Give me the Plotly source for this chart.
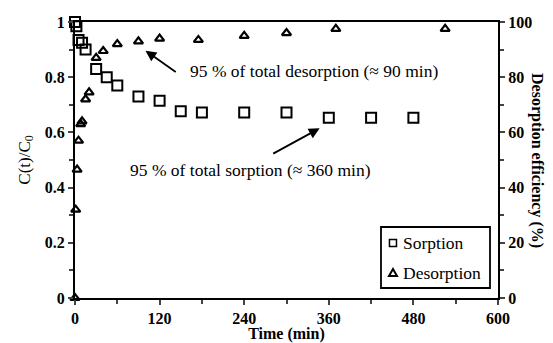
import plotly.graph_objects as go

# Data
sorption_t = [0, 2, 5, 10, 15, 30, 45, 60, 90, 120, 150, 180, 240, 300, 360, 420, 480]
sorption_c = [1.0, 0.985, 0.935, 0.925, 0.90, 0.83, 0.80, 0.77, 0.73, 0.715, 0.677, 0.672,
              0.672, 0.672, 0.653, 0.653, 0.653]

desorption_t = [0, 1, 3, 5, 8, 10, 15, 20, 30, 40, 60, 90, 120, 175, 240, 300, 370, 525]
desorption_e = [0, 32, 46.5, 57, 63, 64, 72, 74.5, 87, 89.5, 92, 93, 94, 93.5, 95, 96, 97.5, 97.5]

x_ticks = [0, 120, 240, 360, 480, 600]
y_ticks = [0, 0.2, 0.4, 0.6, 0.8, 1]
y_tick_labels = ["0", "0.2", "0.4", "0.6", "0.8", "1"]
y2_ticks = [0, 20, 40, 60, 80, 100]
legend_names = ["Sorption", "Desorption"]

FONT = "Liberation Serif"

fig = go.Figure()
fig.add_trace(go.Scatter(
    x=sorption_t, y=sorption_c, mode="markers", name=legend_names[0], showlegend=False,
    marker=dict(symbol="square-open", size=10, color="black", line=dict(width=2)),
    cliponaxis=False,
))
fig.add_trace(go.Scatter(
    x=desorption_t, y=desorption_e, mode="markers", name=legend_names[1], yaxis="y2",
    showlegend=False,
    marker=dict(symbol="triangle-up-open", size=8, color="black", line=dict(width=2.2)),
    cliponaxis=False,
))

tickfont = dict(family=FONT, size=16, color="black", weight="bold")

fig.update_layout(
    width=553, height=343,
    margin=dict(l=75, r=55, t=22, b=45, autoexpand=False),
    paper_bgcolor="white", plot_bgcolor="white",
    font=dict(family=FONT, size=16, color="black"),
    showlegend=False,
    xaxis=dict(
        range=[0, 600], tickvals=x_ticks, ticks="outside", ticklen=5, tickwidth=1.5,
        minor=dict(dtick=60, ticks="outside", ticklen=4, tickwidth=1.5),
        showline=True, linecolor="black", linewidth=2, mirror=True, automargin=False,
        showgrid=False, zeroline=False, tickfont=tickfont,
        title=dict(text="Time (min)", font=dict(family=FONT, size=16, weight="bold"), standoff=0),
    ),
    yaxis=dict(
        range=[0, 1], tickvals=y_ticks, ticktext=y_tick_labels, ticks="outside",
        ticklen=5, tickwidth=1.5, automargin=False,
        minor=dict(dtick=0.1, ticks="outside", ticklen=4, tickwidth=1.5),
        showline=True, linecolor="black", linewidth=2, mirror=True,
        showgrid=False, zeroline=False, tickfont=tickfont,
        title=dict(text="C(t)/C<sub>0</sub>", font=dict(family=FONT, size=17), standoff=10),
    ),
    yaxis2=dict(
        range=[0, 100], tickvals=y2_ticks, overlaying="y", side="right",
        ticks="outside", ticklen=5, tickwidth=1.5, automargin=False,
        minor=dict(dtick=10, ticks="outside", ticklen=4, tickwidth=1.5),
        showline=True, linecolor="black", linewidth=2,
        showgrid=False, zeroline=False, tickfont=tickfont,
    ),
)

# Legend box drawn in paper coordinates (layout, not data)
shapes = [
    dict(type="rect", xref="paper", yref="paper", x0=0.7234, x1=0.9811, y0=0.0362, y1=0.2572,
         line=dict(color="black", width=1.8), fillcolor="white", layer="above"),
    dict(type="rect", xref="paper", yref="paper", x0=0.7434, x1=0.7600, y0=0.1866, y1=0.2120,
         line=dict(color="black", width=1.5), layer="above"),
    dict(type="path", xref="paper", yref="paper",
         path="M 0.7518 0.1051 L 0.7423 0.0797 L 0.7612 0.0797 Z",
         line=dict(color="black", width=2), layer="above"),
]
fig.update_layout(shapes=shapes)

annotations = [
    dict(x=100, y=0.896, ax=145, ay=0.815, xref="x", yref="y", axref="x", ayref="y",
         showarrow=True, arrowhead=2, arrowsize=1.2, arrowwidth=1.8, arrowcolor="black", text=""),
    dict(x=339, y=0.822, xref="x", yref="y", text="95 % of total desorption (≈ 90 min)",
         showarrow=False, font=dict(family=FONT, size=17.5)),
    dict(x=347, y=0.615, ax=279, ay=0.52, xref="x", yref="y", axref="x", ayref="y",
         showarrow=True, arrowhead=2, arrowsize=1.2, arrowwidth=1.8, arrowcolor="black", text=""),
    dict(x=249, y=0.462, xref="x", yref="y", text="95 % of total sorption (≈ 360 min)",
         showarrow=False, font=dict(family=FONT, size=17.5)),
    dict(x=1.0, y=0.5, xref="paper", yref="paper", xshift=50, textangle=90,
         text="<b>Desorption efficiency (%)</b>", showarrow=False,
         font=dict(family=FONT, size=16)),
    dict(x=0.771, y=0.1993, xref="paper", yref="paper", xanchor="left", yanchor="middle",
         text=legend_names[0], showarrow=False, font=dict(family=FONT, size=17.5)),
    dict(x=0.771, y=0.0906, xref="paper", yref="paper", xanchor="left", yanchor="middle",
         text=legend_names[1], showarrow=False, font=dict(family=FONT, size=17.5)),
]
fig.update_layout(annotations=annotations)

fig.write_html("out.html", config={"displayModeBar": False},
               post_script="document.body.style.margin='0';document.body.style.padding='0';")
